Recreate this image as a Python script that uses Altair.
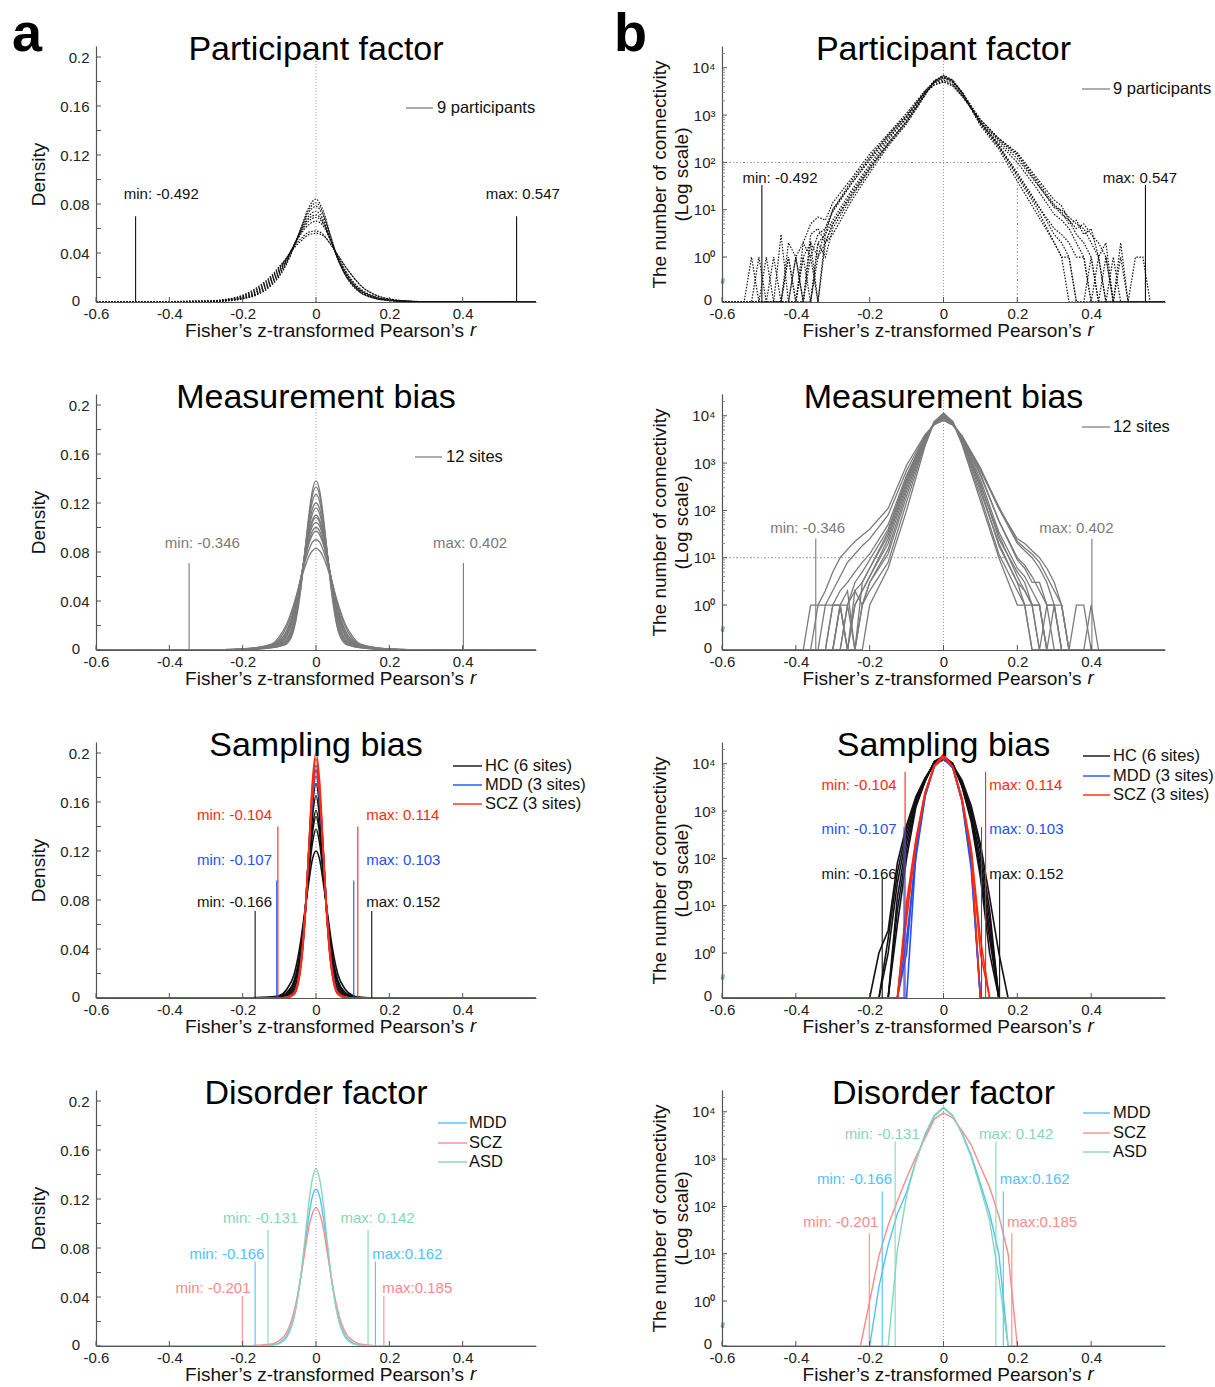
import math
import altair as alt
import pandas as pd

FONT = "Liberation Sans"
W_L, W_R, H = 440, 443, 256
ZERO_POS = -0.95      # where a count of 0 sits on the broken log axis
LOG_TOP = 4.46
DENS_TOP = 0.209

# ------------------------------------------------------------------ Participant factor
PART_DENS_X = [-0.6, -0.3, -0.25, -0.2, -0.16, -0.12, -0.1, -0.08, -0.06, -0.04, -0.02, 0,
               0.02, 0.04, 0.06, 0.08, 0.1, 0.12, 0.16, 0.2, 0.25, 0.3, 0.6]
PART_DENS = [
    [0, .0003, .0008, .0025, .006, .014, .021, .031, .045, .061, .077, .084, .074, .054, .035, .022, .013, .008, .003, .0012, .0004, .0001, 0],
    [0, .0003, .0009, .0028, .0065, .015, .022, .032, .046, .061, .075, .081, .072, .053, .035, .022, .014, .008, .003, .0013, .0004, .0001, 0],
    [0, .0004, .001, .003, .007, .016, .023, .033, .046, .060, .073, .078, .070, .052, .035, .023, .014, .009, .0035, .0014, .0005, .0002, 0],
    [0, .0004, .0011, .0032, .0075, .017, .024, .034, .046, .059, .070, .074, .067, .051, .035, .023, .015, .009, .0035, .0014, .0005, .0002, 0],
    [0, .0005, .0013, .0036, .0085, .018, .025, .035, .047, .058, .068, .071, .065, .050, .035, .024, .015, .010, .004, .0016, .0005, .0002, 0],
    [0, .0006, .0015, .004, .009, .019, .026, .035, .046, .057, .066, .069, .064, .050, .036, .025, .016, .010, .004, .0017, .0006, .0002, 0],
    [0, .0006, .0016, .0045, .010, .020, .027, .036, .046, .056, .063, .066, .062, .050, .037, .026, .017, .011, .0045, .0018, .0006, .0002, 0],
    [0, .0007, .0018, .005, .011, .021, .028, .036, .045, .052, .057, .058, .055, .047, .038, .029, .021, .014, .006, .0025, .0008, .0003, 0],
    [0, .0008, .002, .0055, .012, .022, .029, .036, .044, .050, .055, .056, .054, .047, .038, .029, .021, .014, .006, .0025, .0008, .0003, 0],
]
PART_CNT_X = [-0.6, -0.54, -0.52, -0.5, -0.48, -0.46, -0.44, -0.42, -0.4, -0.38, -0.36, -0.34, -0.32,
              -0.3, -0.25, -0.2, -0.15, -0.1, -0.05, -0.025, 0, 0.025, 0.05, 0.1, 0.15, 0.2, 0.25, 0.3,
              0.32, 0.34, 0.36, 0.38, 0.4, 0.42, 0.44, 0.46, 0.48, 0.5, 0.52, 0.54, 0.56, 0.6]
PART_CNT = [
    [0, 0, 0, 0, 0, 0, 0, 0, 0, 1, 0, 2, 3, 6, 25, 90, 300, 900, 3200, 5300, 6500, 5200, 3000, 700, 230, 60, 15, 3, 2, 1, 0, 0, 0, 0, 0, 0, 0, 0, 0, 0, 0, 0],
    [0, 0, 0, 0, 1, 0, 0, 1, 0, 1, 2, 0, 3, 10, 40, 130, 380, 1000, 3100, 5000, 6000, 4900, 2900, 650, 250, 100, 30, 8, 6, 4, 2, 1, 0, 1, 0, 0, 0, 0, 0, 0, 0, 0],
    [0, 0, 0, 0, 0, 0, 3, 0, 1, 2, 5, 7, 6, 14, 45, 150, 400, 1100, 3300, 4800, 5500, 4500, 2700, 700, 280, 120, 38, 12, 8, 6, 3, 2, 1, 0, 1, 0, 0, 0, 0, 0, 0, 0],
    [0, 0, 1, 0, 0, 1, 0, 0, 0, 2, 1, 3, 4, 10, 35, 110, 330, 850, 2900, 4400, 5200, 4300, 2600, 750, 300, 140, 40, 11, 10, 7, 5, 4, 2, 1, 0, 1, 0, 0, 0, 0, 0, 0],
    [0, 0, 0, 0, 0, 0, 0, 2, 1, 0, 3, 4, 2, 5, 22, 80, 260, 750, 2800, 4900, 6200, 5100, 3100, 800, 320, 150, 45, 13, 9, 5, 6, 3, 4, 1, 2, 0, 1, 0, 0, 0, 0, 0],
    [0, 0, 0, 0, 0, 0, 0, 0, 1, 0, 0, 2, 1, 4, 18, 70, 240, 700, 2700, 5200, 6800, 5400, 3100, 700, 220, 50, 12, 2, 1, 1, 0, 0, 1, 0, 0, 0, 0, 0, 0, 0, 0, 0],
    [0, 0, 0, 0, 0, 0, 0, 0, 0, 0, 1, 0, 2, 3, 15, 60, 220, 650, 2600, 5300, 7000, 5500, 3000, 600, 190, 40, 9, 2, 1, 0, 0, 0, 0, 0, 0, 0, 0, 0, 0, 0, 0, 0],
    [0, 0, 0, 1, 0, 0, 0, 1, 0, 0, 2, 1, 4, 9, 35, 120, 360, 950, 3000, 4300, 5000, 4100, 2500, 800, 320, 160, 50, 16, 12, 6, 4, 5, 3, 2, 1, 0, 2, 0, 1, 1, 0, 0],
    [0, 0, 0, 0, 0, 0, 0, 0, 0, 0, 0, 1, 2, 5, 20, 75, 250, 750, 2800, 5100, 6600, 5300, 3000, 650, 210, 55, 14, 4, 3, 2, 1, 1, 0, 0, 0, 0, 0, 0, 0, 0, 0, 0],
]

# ------------------------------------------------------------------ Measurement bias
MEAS_DENS_X = [-0.6, -0.25, -0.2, -0.16, -0.12, -0.1, -0.08, -0.06, -0.04, -0.03, -0.02, -0.01, 0,
               0.01, 0.02, 0.03, 0.04, 0.06, 0.08, 0.1, 0.12, 0.16, 0.2, 0.25, 0.6]
MEAS_DENS = [
    [0, .0001, .0003, .0008, .002, .003, .005, .017, .053, .081, .109, .130, .138, .130, .109, .081, .053, .016, .005, .003, .002, .0008, .0003, .0001, 0],
    [0, .0001, .0003, .0009, .002, .003, .006, .019, .055, .081, .106, .126, .133, .126, .106, .081, .055, .018, .006, .003, .002, .0009, .0003, .0001, 0],
    [0, .0001, .0004, .001, .0022, .0035, .007, .021, .057, .081, .104, .121, .127, .121, .104, .081, .057, .020, .007, .0035, .0022, .001, .0004, .0001, 0],
    [0, .0001, .0004, .0011, .0025, .004, .008, .023, .058, .080, .100, .115, .120, .115, .100, .080, .058, .023, .008, .004, .0025, .0011, .0004, .0001, 0],
    [0, .0001, .0005, .0012, .0028, .0045, .009, .025, .059, .079, .098, .111, .116, .111, .098, .079, .059, .025, .009, .0045, .0028, .0012, .0005, .0001, 0],
    [0, .0002, .0005, .0013, .003, .005, .011, .028, .060, .078, .095, .106, .110, .106, .095, .078, .060, .028, .011, .005, .003, .0013, .0005, .0002, 0],
    [0, .0002, .0005, .0014, .0032, .0055, .012, .029, .060, .078, .093, .104, .108, .104, .093, .078, .060, .029, .012, .0055, .0032, .0014, .0005, .0002, 0],
    [0, .0002, .0006, .0015, .0035, .006, .013, .031, .060, .077, .091, .101, .104, .101, .091, .077, .060, .031, .013, .006, .0035, .0015, .0006, .0002, 0],
    [0, .0002, .0006, .0016, .0035, .007, .015, .033, .061, .075, .088, .097, .100, .097, .088, .075, .061, .033, .015, .007, .0035, .0016, .0006, .0002, 0],
    [0, .0002, .0007, .0017, .004, .0075, .016, .033, .061, .074, .086, .094, .097, .094, .086, .074, .061, .033, .016, .0075, .004, .0017, .0007, .0002, 0],
    [0, .0003, .0008, .002, .0045, .009, .019, .036, .060, .072, .081, .088, .090, .088, .081, .072, .060, .036, .019, .009, .0045, .002, .0008, .0003, 0],
    [0, .0003, .0009, .0022, .005, .011, .021, .038, .059, .068, .076, .081, .083, .081, .076, .068, .059, .038, .021, .011, .005, .0022, .0009, .0003, 0],
]
MEAS_CNT_X = [-0.6, -0.4, -0.38, -0.36, -0.34, -0.32, -0.3, -0.28, -0.26, -0.24, -0.22, -0.2,
              -0.15, -0.1, -0.05, -0.025, 0, 0.025, 0.05, 0.1, 0.15,
              0.2, 0.22, 0.24, 0.26, 0.28, 0.3, 0.32, 0.34, 0.36, 0.38, 0.4, 0.42, 0.44, 0.6]
MEAS_CNT = [
    [0, 0, 0, 1, 1, 2, 5, 10, 15, 22, 30, 40, 110, 900, 4000, 6500, 8000, 6300, 3800, 800, 110, 20, 14, 10, 6, 3, 1, 0, 0, 0, 0, 0, 0, 0, 0],
    [0, 0, 0, 0, 1, 1, 1, 2, 3, 5, 8, 12, 50, 550, 3600, 6700, 8500, 6500, 3600, 600, 60, 10, 7, 4, 2, 1, 1, 0, 0, 0, 0, 0, 0, 0, 0],
    [0, 0, 0, 0, 0, 0, 1, 1, 2, 0, 3, 6, 30, 400, 3300, 7000, 9500, 7000, 3400, 450, 35, 6, 4, 2, 1, 0, 0, 0, 0, 0, 0, 0, 0, 0, 0],
    [0, 0, 0, 0, 0, 0, 0, 1, 0, 1, 2, 4, 25, 350, 3200, 7200, 10000, 7200, 3200, 380, 25, 5, 3, 1, 1, 0, 0, 0, 0, 0, 0, 0, 0, 0, 0],
    [0, 0, 0, 0, 0, 0, 0, 0, 1, 0, 1, 3, 15, 250, 3000, 7400, 10500, 7400, 3000, 300, 18, 3, 1, 1, 0, 0, 0, 0, 0, 0, 0, 0, 0, 0, 0],
    [0, 0, 0, 0, 0, 0, 0, 0, 0, 0, 1, 2, 8, 150, 2600, 7500, 11000, 7500, 2700, 200, 12, 2, 1, 0, 0, 0, 0, 0, 0, 0, 0, 0, 0, 0, 0],
    [0, 0, 0, 0, 0, 0, 1, 1, 1, 3, 5, 9, 40, 500, 3500, 6800, 9000, 6900, 3700, 700, 110, 25, 20, 14, 10, 6, 3, 1, 0, 0, 0, 0, 0, 0, 0],
    [0, 0, 0, 0, 0, 0, 0, 0, 1, 2, 3, 6, 35, 450, 3400, 6900, 9200, 6900, 3500, 550, 60, 9, 6, 3, 3, 1, 1, 1, 0, 0, 0, 0, 0, 0, 0],
    [0, 0, 0, 0, 0, 0, 0, 0, 0, 0, 0, 1, 6, 100, 2300, 7400, 11500, 7500, 2500, 160, 10, 1, 1, 0, 0, 0, 0, 0, 0, 0, 0, 0, 0, 0, 0],
    [0, 0, 0, 0, 0, 0, 0, 1, 0, 1, 2, 4, 20, 300, 3100, 7200, 10200, 7200, 3100, 350, 30, 4, 2, 1, 1, 0, 1, 0, 0, 0, 0, 0, 0, 0, 0],
    [0, 0, 0, 0, 0, 1, 2, 4, 8, 12, 18, 25, 80, 700, 3800, 6600, 8300, 6500, 3700, 750, 120, 22, 16, 12, 8, 4, 2, 1, 0, 1, 1, 0, 0, 0, 0],
    [0, 0, 0, 0, 0, 0, 0, 1, 0, 2, 1, 3, 12, 200, 2800, 7300, 10800, 7400, 2900, 250, 20, 3, 2, 1, 0, 1, 0, 0, 0, 0, 0, 1, 0, 0, 0],
]

# ------------------------------------------------------------------ Sampling bias
SAMP_DENS_X = [-0.6, -0.2, -0.16, -0.12, -0.1, -0.08, -0.06, -0.05, -0.04, -0.03, -0.02, -0.01, 0,
               0.01, 0.02, 0.03, 0.04, 0.05, 0.06, 0.08, 0.1, 0.12, 0.16, 0.2, 0.6]
SAMP_DENS_HC = [
    [0, 0, 0, 0, .0003, .0015, .006, .014, .032, .065, .11, .155, .175, .155, .11, .065, .032, .014, .006, .0015, .0003, 0, 0, 0, 0],
    [0, 0, 0, .0001, .0005, .002, .008, .017, .036, .067, .108, .147, .165, .147, .108, .067, .036, .017, .008, .002, .0005, .0001, 0, 0, 0],
    [0, 0, .0001, .0003, .001, .003, .011, .021, .040, .069, .105, .138, .153, .138, .105, .069, .040, .021, .011, .003, .001, .0002, 0, 0, 0],
    [0, 0, .0001, .0004, .0012, .0035, .012, .023, .042, .070, .104, .134, .148, .134, .104, .070, .042, .023, .012, .0035, .0012, .0003, 0, 0, 0],
    [0, 0, .0002, .0006, .0016, .0045, .014, .026, .045, .070, .100, .126, .138, .126, .100, .070, .045, .026, .014, .0045, .0015, .0004, .0001, 0, 0],
    [0, .0001, .0004, .001, .002, .007, .019, .032, .050, .072, .094, .113, .120, .113, .094, .072, .050, .032, .019, .007, .002, .0005, .0001, 0, 0],
]
SAMP_DENS_MDD = [
    [0, 0, 0, 0, 0, .0005, .0035, .011, .030, .066, .118, .168, .190, .168, .118, .066, .030, .011, .0035, .0005, 0, 0, 0, 0, 0],
    [0, 0, 0, 0, 0, .0006, .004, .012, .031, .067, .118, .165, .186, .165, .118, .067, .031, .012, .004, .0006, 0, 0, 0, 0, 0],
    [0, 0, 0, 0, 0, .0007, .0045, .013, .033, .068, .117, .161, .181, .161, .117, .068, .033, .013, .0045, .0007, 0, 0, 0, 0, 0],
]
SAMP_DENS_SCZ = [
    [0, 0, 0, 0, 0, .0004, .003, .010, .028, .064, .120, .176, .200, .176, .120, .064, .028, .010, .003, .0004, 0, 0, 0, 0, 0],
    [0, 0, 0, 0, 0, .0005, .0035, .011, .030, .066, .120, .172, .195, .172, .120, .066, .030, .011, .0035, .0005, 0, 0, 0, 0, 0],
    [0, 0, 0, 0, 0, .0006, .004, .012, .032, .068, .118, .165, .186, .165, .118, .068, .032, .012, .004, .0006, 0, 0, 0, 0, 0],
]
SAMP_CNT_X = [-0.6, -0.225, -0.2, -0.175, -0.15, -0.125, -0.1, -0.075, -0.05, -0.025, 0,
              0.025, 0.05, 0.075, 0.1, 0.125, 0.15, 0.175, 0.2, 0.6]
SAMP_CNT_HC = [
    [0, 0, 0, 1, 3, 80, 500, 2000, 5000, 10000, 12000, 9500, 4500, 1300, 200, 15, 1, 0, 0, 0],
    [0, 0, 0, 0, 2, 50, 400, 1800, 4800, 10200, 12500, 9300, 4000, 1100, 150, 8, 0, 0, 0, 0],
    [0, 0, 0, 0, 1, 30, 300, 1600, 4600, 10500, 13000, 9600, 3800, 900, 100, 5, 0, 0, 0, 0],
    [0, 0, 0, 0, 0, 15, 220, 1500, 4500, 10800, 13500, 9800, 3600, 800, 70, 3, 0, 0, 0, 0],
    [0, 0, 0, 0, 0, 8, 150, 1300, 4300, 11000, 14000, 10000, 3400, 700, 50, 2, 0, 0, 0, 0],
    [0, 0, 0, 0, 0, 4, 100, 1200, 4200, 11200, 14500, 10200, 3300, 600, 40, 1, 0, 0, 0, 0],
]
SAMP_CNT_MDD = [
    [0, 0, 0, 0, 0, 0, 1, 150, 2200, 9000, 14000, 8500, 1800, 100, 0, 0, 0, 0, 0, 0],
    [0, 0, 0, 0, 0, 0, 0, 120, 2100, 9200, 13500, 8300, 1700, 80, 0, 0, 0, 0, 0, 0],
    [0, 0, 0, 0, 0, 0, 2, 100, 2000, 8800, 13000, 8200, 1600, 60, 0, 0, 0, 0, 0, 0],
]
SAMP_CNT_SCZ = [
    [0, 0, 0, 0, 0, 0, 12, 250, 2500, 9000, 16000, 8500, 1800, 150, 2, 0, 0, 0, 0, 0],
    [0, 0, 0, 0, 0, 0, 8, 220, 2400, 9300, 15000, 8800, 1700, 120, 0, 0, 0, 0, 0, 0],
    [0, 0, 0, 0, 0, 0, 5, 200, 2300, 9000, 14000, 8600, 1900, 160, 1, 0, 0, 0, 0, 0],
]

# ------------------------------------------------------------------ Disorder factor
DIS_DENS_X = SAMP_DENS_X
DIS_DENS_MDD = [0, 0, .0001, .0008, .0026, .0083, .024, .040, .059, .082, .105, .122, .128, .122, .105, .082, .059, .040, .024, .0083, .0026, .0008, .0001, 0, 0]
DIS_DENS_SCZ = [0, .0002, .0006, .0016, .0045, .011, .028, .042, .059, .078, .096, .108, .113, .108, .096, .078, .059, .042, .028, .011, .0045, .0016, .0003, 0, 0]
DIS_DENS_ASD = [0, 0, 0, .0006, .002, .007, .023, .039, .061, .087, .116, .136, .145, .136, .116, .087, .061, .039, .023, .007, .002, .0006, 0, 0, 0]
DIS_CNT_X = [-0.6, -0.25, -0.225, -0.2, -0.175, -0.15, -0.125, -0.1, -0.075, -0.05, -0.025, 0,
             0.025, 0.05, 0.075, 0.1, 0.125, 0.15, 0.175, 0.2, 0.225, 0.6]
DIS_CNT_MDD = [0, 0, 0, 0, 2, 15, 70, 200, 900, 3200, 8000, 12000, 8200, 3600, 1200, 300, 70, 10, 0, 0, 0, 0]
DIS_CNT_SCZ = [0, 0, 0, 1, 9, 40, 130, 400, 1100, 2800, 7000, 9500, 7400, 4000, 2000, 700, 250, 63, 10, 0, 0, 0]
DIS_CNT_ASD = [0, 0, 0, 0, 0, 0, 12, 170, 900, 3400, 8500, 12500, 8500, 3400, 1100, 250, 50, 3, 0, 0, 0, 0]

# ------------------------------------------------------------------ colours
C_PART, C_MEAS = "#111111", "#7a7a7a"
C_HC, C_MDD, C_SCZ = "#111111", "#1f4fff", "#ff2a0a"
C_DMDD, C_DSCZ, C_DASD = "#4ec3ff", "#ff8a8a", "#86d6bb"

X_TICKS = [-0.6, -0.4, -0.2, 0, 0.2, 0.4]
XLABEL = "Fisher\u2019s z-transformed Pearson\u2019s"   # the italic "r" is added as its own text

ANN_FS, LEG_FS, TITLE_FS, AXT_FS, LAB_FS = 15, 16.5, 34, 19, 15


def to_pos(c):
    return math.log10(c) if c > 0 else ZERO_POS


def long_df(xs, series, group, log=False):
    rows = []
    for i, ys in enumerate(series):
        assert len(ys) == len(xs), (group, i, len(ys), len(xs))
        for x, y in zip(xs, ys):
            rows.append({"x": x, "y": to_pos(y) if log else y, "s": f"{group}{i}", "g": group})
    return pd.DataFrame(rows)


def panel(side, title, curve_sets, cdom, crange, ann, vlines, legend, letter, letter_on,
          refs_v=(), refs_h=(), dash=None, width=1.3, interp="linear"):
    log = side == "R"
    W = W_R if log else W_L
    title_cx = W / 2 + (-2 if log else 8)
    xs = alt.Scale(domain=[-0.6, 0.6], nice=False, zero=False)
    cs = alt.Scale(domain=cdom, range=crange)
    if log:
        ys = alt.Scale(domain=[ZERO_POS, LOG_TOP], nice=False, zero=False)
        yaxis = alt.Axis(title=["The number of connectivity", "(Log scale)"],
                         values=[0, 1, 2, 3, 4], labelFlush=False, labelPadding=7,
                         labelExpr="datum.value == 0 ? '10\u2070' : "
                                   "datum.value == 1 ? '10\u00b9' : datum.value == 2 ? '10\u00b2' : "
                                   "datum.value == 3 ? '10\u00b3' : '10\u2074'",
                         titlePadding=0, titleLineHeight=22)
        ytick_major = [ZERO_POS, 0, 1, 2, 3, 4]
        ytick_minor = [d + math.log10(k) for d in range(4) for k in range(2, 10)] + [4 + math.log10(2)]
        zero_lab = (-10, H - 2)
    else:
        ys = alt.Scale(domain=[0, DENS_TOP], nice=False, zero=False)
        yaxis = alt.Axis(title="Density", values=[0.04, 0.08, 0.12, 0.16, 0.2], labelFlush=False,
                         labelPadding=7, labelExpr="'' + datum.value", titlePadding=11)
        ytick_major = [round(0.02 * i, 2) for i in range(11)]
        ytick_minor = []
        zero_lab = (-16, H - 1)
    xaxis = alt.Axis(title=XLABEL, values=X_TICKS, labelExpr="'' + datum.value", labelFlush=False,
                     labelPadding=4, titlePadding=0, titleX=title_cx)

    def X(f="x"):
        return alt.X(f"{f}:Q", scale=xs, axis=xaxis)

    def Y(f="y"):
        return alt.Y(f"{f}:Q", scale=ys, axis=yaxis)

    layers = []
    top = 4.4 if log else 0.205
    bot = ZERO_POS if log else 0

    # curves first (they carry the axes); one layer per group fixes drawing order
    for xsrc, series, grp in curve_sets:
        df = long_df(xsrc, series, grp, log=log)
        mk = dict(strokeWidth=width, interpolate=interp, clip=True)
        if dash:
            mk["strokeDash"] = dash
        layers.append(alt.Chart(df).mark_line(**mk).encode(
            x=X(), y=Y(), color=alt.Color("g:N", scale=cs, legend=None), detail="s:N"))

    # dotted reference lines
    layers.append(alt.Chart(pd.DataFrame({"x": [0], "y": [bot], "y2": [top]})).mark_rule(
        color="#8a8a8a", strokeDash=[1, 2], strokeWidth=0.9).encode(x=X(), y=Y(), y2="y2:Q"))
    for (xv, y2v) in refs_v:
        layers.append(alt.Chart(pd.DataFrame({"x": [xv], "y": [bot], "y2": [y2v]})).mark_rule(
            color="#8a8a8a", strokeDash=[2, 2, 1, 2], strokeWidth=0.9).encode(x=X(), y=Y(), y2="y2:Q"))
    for (yv, x2v) in refs_h:
        layers.append(alt.Chart(pd.DataFrame({"x": [-0.6], "x2": [x2v], "y": [yv]})).mark_rule(
            color="#8a8a8a", strokeDash=[2, 2, 1, 2], strokeWidth=0.9).encode(x=X(), x2="x2:Q", y=Y()))

    # min / max lines
    vdf = pd.DataFrame({"x": [v[0] for v in vlines], "y": [bot] * len(vlines),
                        "y2": [v[1] for v in vlines], "g": [v[2] for v in vlines]})
    layers.append(alt.Chart(vdf).mark_rule(strokeWidth=1.1).encode(
        x=X(), y=Y(), y2="y2:Q", color=alt.Color("g:N", scale=cs, legend=None)))
    # min / max labels
    for al in ["left", "center", "right"]:
        rows = [a for a in ann if a[4] == al]
        if not rows:
            continue
        adf = pd.DataFrame({"t": [a[0] for a in rows], "x": [a[1] for a in rows],
                            "y": [a[2] for a in rows], "g": [a[3] for a in rows]})
        layers.append(alt.Chart(adf).mark_text(font=FONT, fontSize=ANN_FS, align=al, baseline="middle").encode(
            x=X(), y=Y(), text="t:N", color=alt.Color("g:N", scale=cs, legend=None)))

    # inward ticks
    layers.append(alt.Chart(pd.DataFrame({"y": ytick_major})).mark_rule(color="#555", strokeWidth=1).encode(
        y=Y(), x=alt.value(0), x2=alt.value(5)))
    if ytick_minor:
        layers.append(alt.Chart(pd.DataFrame({"y": ytick_minor})).mark_rule(color="#777", strokeWidth=0.8).encode(
            y=Y(), x=alt.value(0), x2=alt.value(3)))
        layers.append(alt.Chart(pd.DataFrame({"y": [-0.5], "t": ["\u2248"]})).mark_text(
            font=FONT, fontSize=11, angle=90, color="#555").encode(y=Y(), x=alt.value(0), text="t:N"))
    layers.append(alt.Chart(pd.DataFrame({"x": X_TICKS})).mark_rule(color="#555", strokeWidth=1).encode(
        x=X(), y=alt.value(H), y2=alt.value(H - 5)))

    # the "0" of the y axis, nudged clear of the x axis' first label as in the reference
    layers.append(alt.Chart(pd.DataFrame({"t": ["0"]})).mark_text(
        font=FONT, fontSize=LAB_FS, align="right", baseline="middle", color="#222").encode(
        x=alt.value(zero_lab[0]), y=alt.value(zero_lab[1]), text="t:N"))

    # italic "r" that ends the x-axis title
    layers.append(alt.Chart(pd.DataFrame({"t": ["r"]})).mark_text(
        font=FONT, fontSize=AXT_FS, fontStyle="italic", align="left", baseline="top", color="#111").encode(
        x=alt.value(title_cx + 146), y=alt.value(H + 19), text="t:N"))

    # legend
    lx0, lx1, ltx, entries = legend
    for col, txt, yy in entries:
        one = pd.DataFrame({"t": [txt]})
        layers.append(alt.Chart(one).mark_rule(color=col, strokeWidth=1.4).encode(
            x=alt.value(lx0), x2=alt.value(lx1), y=alt.value(yy)))
        layers.append(alt.Chart(one).mark_text(font=FONT, fontSize=LEG_FS, align="left", baseline="middle",
                                               color="#111").encode(
            x=alt.value(ltx), y=alt.value(yy), text="t:N"))

    # title (sits inside the top of the frame, as in the reference)
    layers.append(alt.Chart(pd.DataFrame({"t": [title]})).mark_text(
        font=FONT, fontSize=TITLE_FS, align="center", baseline="alphabetic", color="black").encode(
        x=alt.value(W / 2), y=alt.value(14), text="t:N"))
    # panel letter (invisible copies keep every panel's bounds identical)
    layers.append(alt.Chart(pd.DataFrame({"t": [letter]})).mark_text(
        font=FONT, fontSize=54, fontWeight="bold", align="left", baseline="alphabetic",
        color="black", opacity=1 if letter_on else 0).encode(
        x=alt.value(-84 if side == "L" else -108), y=alt.value(5), text="t:N"))

    return alt.layer(*layers).properties(width=W, height=H)


panels = []
# Row 1 -------------------------------------------------------------
panels.append(panel(
    "L", "Participant factor", [(PART_DENS_X, PART_DENS, "P")], ["P"], [C_PART],
    ann=[("min: -0.492", -0.422, 0.088, "P", "center"), ("max: 0.547", 0.564, 0.088, "P", "center")],
    vlines=[(-0.492, 0.07, "P"), (0.547, 0.07, "P")],
    legend=(310, 337, 341, [("#8a8a8a", "9 participants", 62)]),
    letter="a", letter_on=True, dash=[1.5, 1.5], width=1.2, interp="monotone"))
panels.append(panel(
    "R", "Participant factor", [(PART_CNT_X, PART_CNT, "P")], ["P"], [C_PART],
    ann=[("min: -0.492", -0.443, 1.66, "P", "center"), ("max: 0.547", 0.532, 1.66, "P", "center")],
    vlines=[(-0.492, 1.52, "P"), (0.547, 1.52, "P")],
    legend=(360, 388, 391, [("#8a8a8a", "9 participants", 43)]),
    letter="b", letter_on=True, refs_v=[(0.2, 2)], refs_h=[(2, 0.2)], dash=[1.5, 1.5], width=1.2))
# Row 2 -------------------------------------------------------------
panels.append(panel(
    "L", "Measurement bias", [(MEAS_DENS_X, MEAS_DENS, "M")], ["M"], [C_MEAS],
    ann=[("min: -0.346", -0.31, 0.087, "M", "center"), ("max: 0.402", 0.42, 0.087, "M", "center")],
    vlines=[(-0.346, 0.071, "M"), (0.402, 0.071, "M")],
    legend=(319, 346, 350, [("#8a8a8a", "12 sites", 63)]),
    letter="a", letter_on=False, width=1.3, interp="monotone"))
panels.append(panel(
    "R", "Measurement bias", [(MEAS_CNT_X, MEAS_CNT, "M")], ["M"], [C_MEAS],
    ann=[("min: -0.346", -0.368, 1.62, "M", "center"), ("max: 0.402", 0.36, 1.62, "M", "center")],
    vlines=[(-0.346, 1.4, "M"), (0.402, 1.4, "M")],
    legend=(360, 388, 391, [("#8a8a8a", "12 sites", 33)]),
    letter="b", letter_on=False, refs_h=[(1, 0.17)], width=1.3))
# Row 3 -------------------------------------------------------------
samp_dom, samp_rng = ["HC", "MDD", "SCZ"], [C_HC, C_MDD, C_SCZ]
panels.append(panel(
    "L", "Sampling bias",
    [(SAMP_DENS_X, SAMP_DENS_HC, "HC"), (SAMP_DENS_X, SAMP_DENS_MDD, "MDD"), (SAMP_DENS_X, SAMP_DENS_SCZ, "SCZ")],
    samp_dom, samp_rng,
    ann=[("min: -0.104", -0.12, 0.149, "SCZ", "right"), ("min: -0.107", -0.12, 0.113, "MDD", "right"),
         ("min: -0.166", -0.12, 0.078, "HC", "right"), ("max: 0.114", 0.137, 0.149, "SCZ", "left"),
         ("max: 0.103", 0.137, 0.113, "MDD", "left"), ("max: 0.152", 0.137, 0.078, "HC", "left")],
    vlines=[(-0.104, 0.14, "SCZ"), (-0.107, 0.096, "MDD"), (-0.166, 0.071, "HC"),
            (0.114, 0.14, "SCZ"), (0.103, 0.096, "MDD"), (0.152, 0.071, "HC")],
    legend=(357, 386, 389, [(C_HC, "HC (6 sites)", 24), (C_MDD, "MDD (3 sites)", 43), (C_SCZ, "SCZ (3 sites)", 62)]),
    letter="a", letter_on=False, width=1.6, interp="monotone"))
panels.append(panel(
    "R", "Sampling bias",
    [(SAMP_CNT_X, SAMP_CNT_HC, "HC"), (SAMP_CNT_X, SAMP_CNT_MDD, "MDD"), (SAMP_CNT_X, SAMP_CNT_SCZ, "SCZ")],
    samp_dom, samp_rng,
    ann=[("min: -0.104", -0.127, 3.55, "SCZ", "right"), ("min: -0.107", -0.127, 2.62, "MDD", "right"),
         ("min: -0.166", -0.127, 1.68, "HC", "right"), ("max: 0.114", 0.124, 3.55, "SCZ", "left"),
         ("max: 0.103", 0.124, 2.62, "MDD", "left"), ("max: 0.152", 0.124, 1.68, "HC", "left")],
    vlines=[(-0.104, 3.83, "SCZ"), (-0.107, 2.66, "MDD"), (-0.166, 1.6, "HC"),
            (0.114, 3.83, "SCZ"), (0.103, 2.66, "MDD"), (0.152, 1.6, "HC")],
    legend=(361, 388, 391, [(C_HC, "HC (6 sites)", 14), (C_MDD, "MDD (3 sites)", 34), (C_SCZ, "SCZ (3 sites)", 53)]),
    letter="b", letter_on=False, width=1.6))
# Row 4 -------------------------------------------------------------
dis_dom, dis_rng = ["MDD", "SCZ", "ASD"], [C_DMDD, C_DSCZ, C_DASD]
panels.append(panel(
    "L", "Disorder factor",
    [(DIS_DENS_X, [DIS_DENS_MDD], "MDD"), (DIS_DENS_X, [DIS_DENS_SCZ], "SCZ"), (DIS_DENS_X, [DIS_DENS_ASD], "ASD")],
    dis_dom, dis_rng,
    ann=[("min: -0.131", -0.151, 0.1045, "ASD", "center"), ("min: -0.166", -0.243, 0.075, "MDD", "center"),
         ("min: -0.201", -0.281, 0.047, "SCZ", "center"), ("max: 0.142", 0.168, 0.1045, "ASD", "center"),
         ("max:0.162", 0.249, 0.075, "MDD", "center"), ("max:0.185", 0.276, 0.047, "SCZ", "center")],
    vlines=[(-0.131, 0.095, "ASD"), (-0.166, 0.069, "MDD"), (-0.201, 0.041, "SCZ"),
            (0.142, 0.095, "ASD"), (0.162, 0.069, "MDD"), (0.185, 0.041, "SCZ")],
    legend=(342, 371, 373, [(C_DMDD, "MDD", 33), (C_DSCZ, "SCZ", 53), (C_DASD, "ASD", 72)]),
    letter="a", letter_on=False, width=1.4, interp="monotone"))
panels.append(panel(
    "R", "Disorder factor",
    [(DIS_CNT_X, [DIS_CNT_MDD], "MDD"), (DIS_CNT_X, [DIS_CNT_SCZ], "SCZ"), (DIS_CNT_X, [DIS_CNT_ASD], "ASD")],
    dis_dom, dis_rng,
    ann=[("min: -0.131", -0.166, 3.52, "ASD", "center"), ("min: -0.166", -0.241, 2.57, "MDD", "center"),
         ("min: -0.201", -0.278, 1.66, "SCZ", "center"), ("max: 0.142", 0.197, 3.52, "ASD", "center"),
         ("max:0.162", 0.247, 2.57, "MDD", "center"), ("max:0.185", 0.267, 1.66, "SCZ", "center")],
    vlines=[(-0.131, 3.37, "ASD"), (-0.166, 2.32, "MDD"), (-0.201, 1.43, "SCZ"),
            (0.142, 3.37, "ASD"), (0.162, 2.32, "MDD"), (0.185, 1.43, "SCZ")],
    legend=(361, 388, 391, [(C_DMDD, "MDD", 23), (C_DSCZ, "SCZ", 43), (C_DASD, "ASD", 62)]),
    letter="b", letter_on=False, width=1.4))

chart = alt.concat(*panels, columns=2, spacing={"row": 16, "column": 28}).resolve_scale(
    color="independent"
).properties(
    padding={"left": 12, "top": 8, "right": 0, "bottom": 0}
).configure_view(stroke=None).configure_axis(
    labelFont=FONT, titleFont=FONT, labelFontSize=LAB_FS, titleFontSize=AXT_FS, titleFontWeight="normal",
    labelColor="#222", titleColor="#111", domainColor="#555", domainWidth=1.2,
    ticks=False, grid=False
)

chart.save("out.html", embed_options={"renderer": "svg", "actions": False})
